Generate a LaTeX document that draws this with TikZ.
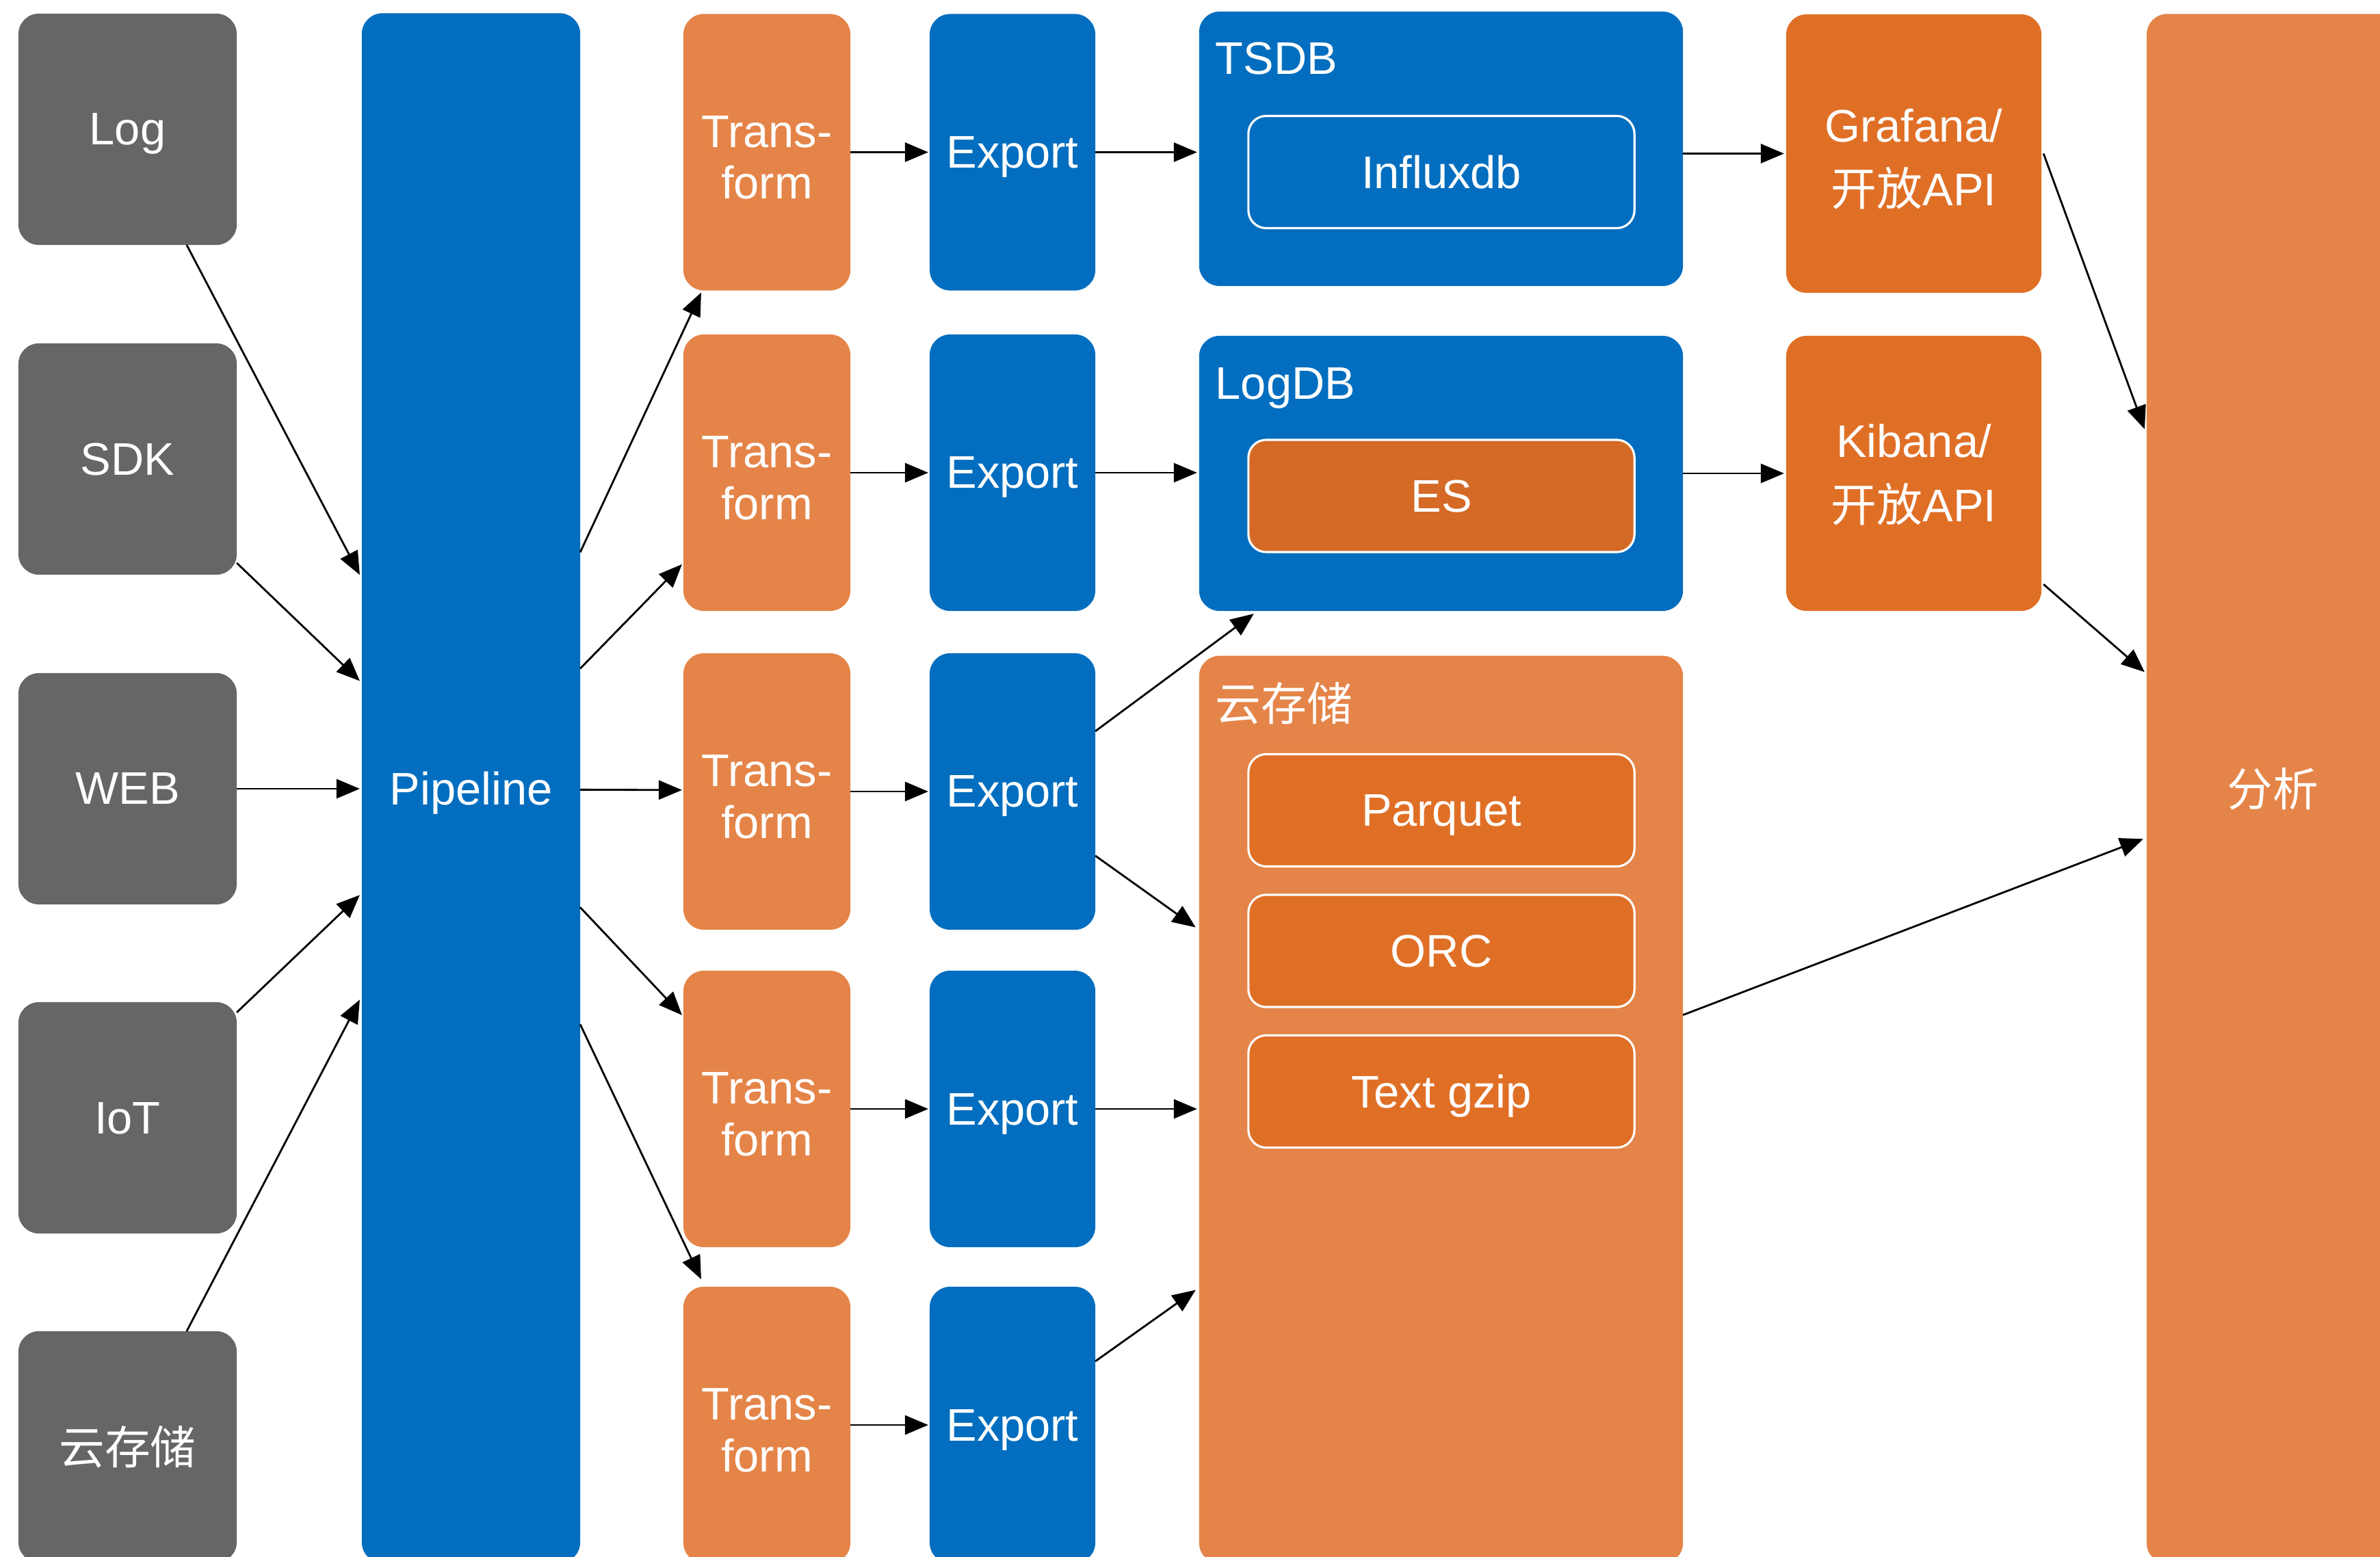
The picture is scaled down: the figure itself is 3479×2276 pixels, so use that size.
\documentclass[tikz,border=0pt]{standalone}
\usepackage{fontspec}
\setmainfont{Liberation Sans}
\newfontfamily\cjk{Noto Sans CJK SC}
\usetikzlibrary{calc,arrows.meta}
\definecolor{cgray}{HTML}{666666}
\definecolor{cblue}{HTML}{036EBF}
\definecolor{corl}{HTML}{E58448}
\definecolor{cord}{HTML}{E06F26}
\definecolor{ces}{HTML}{D46A25}
\tikzset{
  base/.style={rounded corners=0.3cm, inner sep=0pt, outer sep=0pt, text=white, align=center, font=\fontsize{19}{21.5}\selectfont},
  sl/.style={text depth=0pt},
  mlab/.style={inner sep=0pt, text=white, align=center, font=\fontsize{19}{21.5}\selectfont},
  gbox/.style={base, fill=cgray, minimum width=3.19cm, minimum height=3.38cm},
  tbox/.style={base, fill=corl, minimum width=2.44cm, minimum height=4.04cm, label={[mlab, yshift=-2.2pt]center:Trans-\\form}},
  ebox/.style={base, sl, fill=cblue, minimum width=2.42cm, minimum height=4.04cm},
  dbbox/.style={base, minimum width=7.07cm},
  inbox/.style={base, sl, rounded corners=0.26cm, draw=white, line width=0.9pt, minimum width=5.64cm, minimum height=1.64cm},
  vbox/.style={base, fill=cord, minimum width=3.73cm},
  lbl/.style={anchor=base west, inner sep=0pt, text=white, font=\fontsize{19}{21.5}\selectfont},
  arr/.style={draw=black, line width=0.8pt, -{Triangle[length=0.34cm,width=0.28cm]}}
}
\begin{document}
\begin{tikzpicture}[x=0.01cm,y=-0.01cm]
\useasboundingbox (0,0) rectangle (3479,2276);
\clip (0,0) rectangle (3479,2276);
% sources
\node[gbox, sl] (log) at (186.5,189) {Log};
\node[gbox, sl] (sdk) at (186.5,671) {SDK};
\node[gbox, sl] (web) at (186.5,1153) {WEB};
\node[gbox, sl] (iot) at (186.5,1634) {IoT};
\node[gbox] (cin) at (186.5,2115) {\cjk 云存储};
% pipeline
\node[base, sl, fill=cblue, minimum width=3.19cm, minimum height=22.64cm] (pipe) at (688.5,1152) {Pipeline};
% transforms
\node[tbox] (t1) at (1121,222.5) {};
\node[tbox] (t2) at (1121,691) {};
\node[tbox] (t3) at (1121,1157) {};
\node[tbox] (t4) at (1121,1621) {};
\node[tbox] (t5) at (1121,2083) {};
% exports
\node[ebox] (e1) at (1480,222.5) {Export};
\node[ebox] (e2) at (1480,691) {Export};
\node[ebox] (e3) at (1480,1157) {Export};
\node[ebox] (e4) at (1480,1621) {Export};
\node[ebox] (e5) at (1480,2083) {Export};
% storage
\node[dbbox, fill=cblue, minimum height=4.01cm] (tsdb) at (2106.5,217.5) {};
\node[lbl] (tsdbl) at (1776,109) {TSDB};
\node[inbox, fill=cblue] (influx) at (2107,251.5) {Influxdb};
\node[dbbox, fill=cblue, minimum height=4.02cm] (logdb) at (2106.5,692) {};
\node[lbl] (logdbl) at (1776,583) {LogDB};
\node[inbox, fill=ces] (es) at (2107,725) {ES};
\node[dbbox, fill=corl, minimum height=13.26cm] (cloud) at (2106.5,1622) {};
\node[lbl] (cloudl) at (1776,1053) {\cjk 云存储};
\node[inbox, fill=cord] (parq) at (2107,1184.5) {Parquet};
\node[inbox, fill=cord] (orc) at (2107,1390) {ORC};
\node[inbox, fill=cord] (gzip) at (2107,1595.5) {Text gzip};
% viz
\node[vbox, minimum height=4.07cm, label={[mlab, yshift=-2.2pt]center:Grafana/\\[5pt]{\cjk 开放}API}] (graf) at (2797.5,224.5) {};
\node[vbox, minimum height=4.02cm, label={[mlab, yshift=-0.6pt]center:Kibana/\\[5pt]{\cjk 开放}API}] (kib) at (2797.5,692) {};
% analysis
\node[base, fill=corl, minimum width=3.68cm, minimum height=22.64cm] (fx) at (3322,1153) {\cjk 分析};
% arrows: sources -> pipeline
\draw[arr] ($(log.south west)+(246,0)$) -- ($(pipe.north west)+(-3,821)$);
\draw[arr] ($(sdk.north east)+(0,321)$) -- ($(pipe.north west)+(-3,976)$);
\draw[arr] (web.east) -- ($(web.east -| pipe.west)+(-3,0)$);
\draw[arr] ($(iot.north east)+(0,15)$) -- ($(pipe.north west)+(-3,1289)$);
\draw[arr] ($(cin.north west)+(246,0)$) -- ($(pipe.north west)+(-3,1442)$);
% pipeline -> transforms
\draw[arr] ($(pipe.north east)+(0,788)$) -- ($(t1.south west)+(26,3)$);
\draw[arr] ($(pipe.north east)+(0,958)$) -- ($(t2.north west)+(-2,336)$);
\draw[arr] ($(pipe.north east)+(0,1135)$) -- ($(t3.north west)+(-2,200)$);
\draw[arr] ($(pipe.north east)+(0,1307)$) -- ($(t4.north west)+(-2,65)$);
\draw[arr] ($(pipe.north east)+(0,1478)$) -- ($(t5.north west)+(26,-11)$);
% transforms -> exports
\draw[arr] (t1.east) -- ($(e1.west)+(-2,0)$);
\draw[arr] (t2.east) -- ($(e2.west)+(-2,0)$);
\draw[arr] (t3.east) -- ($(e3.west)+(-2,0)$);
\draw[arr] (t4.east) -- ($(e4.west)+(-2,0)$);
\draw[arr] (t5.east) -- ($(e5.west)+(-2,0)$);
% exports -> storage
\draw[arr] (e1.east) -- ($(e1.east -| tsdb.west)+(-3,0)$);
\draw[arr] (e2.east) -- ($(e2.east -| logdb.west)+(-3,0)$);
\draw[arr] ($(e3.north east)+(0,114)$) -- ($(logdb.south west)+(80,4)$);
\draw[arr] ($(e3.north east)+(0,296)$) -- ($(cloud.north west)+(-5,397)$);
\draw[arr] (e4.east) -- ($(e4.east -| cloud.west)+(-3,0)$);
\draw[arr] ($(e5.north east)+(0,109)$) -- ($(cloud.north west)+(-5,927)$);
% storage -> viz
\draw[arr] (tsdb.east |- graf.west) -- ($(graf.west)+(-3,0)$);
\draw[arr] (logdb.east) -- ($(kib.west)+(-3,0)$);
% -> analysis
\draw[arr] ($(graf.east)+(3,0)$) -- ($(fx.north west)+(-3,607)$);
\draw[arr] ($(kib.south east)+(3,-39)$) -- ($(fx.north west)+(-3,962)$);
\draw[arr] ($(cloud.north east)+(0,525)$) -- ($(fx.north west)+(-5,1206)$);
\end{tikzpicture}
\end{document}
